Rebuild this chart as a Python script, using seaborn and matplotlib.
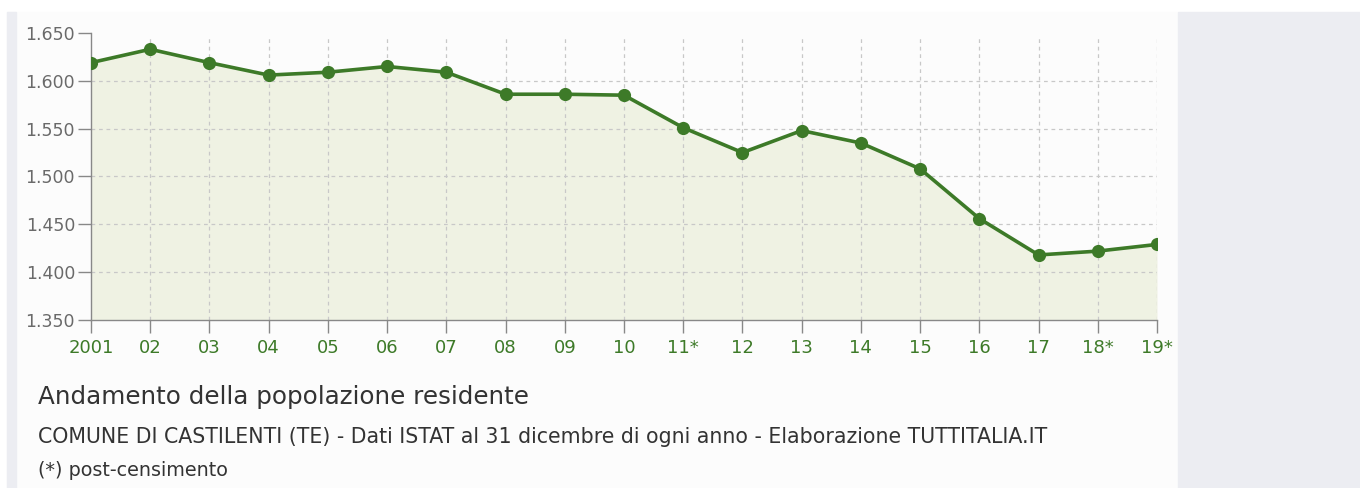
import matplotlib
matplotlib.use("Agg")
import matplotlib.pyplot as plt
import matplotlib.patches as mpatches
import seaborn as sns
import pandas as pd
import numpy as np

years = ["2001", "02", "03", "04", "05", "06", "07", "08", "09", "10",
         "11*", "12", "13", "14", "15", "16", "17", "18*", "19*"]
population = [1619, 1633, 1619, 1606, 1609, 1615, 1609, 1586, 1586, 1585,
              1551, 1525, 1548, 1535, 1508, 1456, 1418, 1422, 1429]
y_ticks = [1350, 1400, 1450, 1500, 1550, 1600, 1650]
y_tick_labels = ["1.350", "1.400", "1.450", "1.500", "1.550", "1.600", "1.650"]

title = "Andamento della popolazione residente"
subtitle = "COMUNE DI CASTILENTI (TE) - Dati ISTAT al 31 dicembre di ogni anno - Elaborazione TUTTITALIA.IT"
note = "(*) post-censimento"

sns.set_theme(style="ticks")
plt.rcParams['font.family'] = ['DejaVu Sans']

W, H = 1360, 488
fig = plt.figure(figsize=(W / 100, H / 100), dpi=100)
fig.patch.set_facecolor("white")

def rect(x0, y0, x1, y1, color):
    fig.patches.append(mpatches.Rectangle((x0 / W, 1 - y1 / H), (x1 - x0) / W, (y1 - y0) / H,
                                          transform=fig.transFigure, color=color, zorder=-10))

rect(7, 12, 1177, 488, "#fcfcfc")
rect(7, 12, 16, 488, "#ecedf2")
rect(1178, 12, 1360, 488, "#ecedf2")

ax = fig.add_axes([91 / W, 1 - 320 / H, (1157 - 91) / W, (320 - 33) / H])
ax.set_zorder(5)
ax.set_facecolor("none")

df = pd.DataFrame({"x": np.arange(len(years)), "pop": population})
line_color = "#3d7a28"
ax.fill_between(df["x"], population, 1350, color="#eff2e3", zorder=1, linewidth=0)
sns.lineplot(data=df, x="x", y="pop", ax=ax, color=line_color, linewidth=2.6,
             marker="o", markersize=9.5, markeredgewidth=0, zorder=3)

ax.set_xlim(0, len(years) - 1)
ax.set_ylim(1350, 1650)
ax.set_xticks(np.arange(len(years)))
ax.set_xticklabels(years, color="#3d7a28", fontsize=13)
ax.set_yticks(y_ticks)
ax.set_yticklabels(y_tick_labels, color="#6a6a6a", fontsize=12.5)
ax.set_xlabel("")
ax.set_ylabel("")

for yv in y_ticks[1:-1]:
    ax.axhline(yv, color="#c8c8c8", linestyle=(0, (3, 3)), linewidth=0.9, zorder=2)
for i in range(1, len(years)):
    ax.plot([i, i], [1350, 1648], color="#c8c8c8", linestyle=(0, (3, 3)), linewidth=0.9, zorder=2)

for s in ["top", "right"]:
    ax.spines[s].set_visible(False)
for s in ["left", "bottom"]:
    ax.spines[s].set_color("#888888")
    ax.spines[s].set_linewidth(1.0)
ax.tick_params(axis="y", which="major", direction="out", length=9.5, width=1, color="#888888",
               left=True, pad=2)
ax.tick_params(axis="x", which="major", direction="out", length=9.5, width=1, color="#888888",
               bottom=True, pad=4)

fig.text(38 / W, 1 - 397 / H, title, fontsize=17.7, color="#333333", va="center", ha="left")
fig.text(38 / W, 1 - 437 / H, subtitle, fontsize=14.8, color="#333333", va="center", ha="left")
fig.text(38 / W, 1 - 470 / H, note, fontsize=13.8, color="#333333", va="center", ha="left")

fig.savefig("out.png", dpi=100)
